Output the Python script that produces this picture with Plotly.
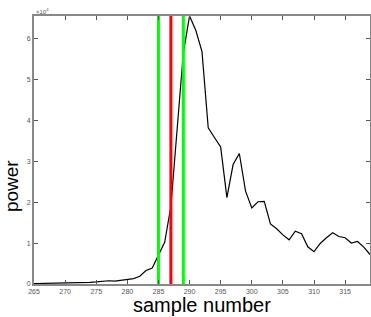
import plotly.graph_objects as go

samples = list(range(265, 320))
power = [100, 120, 150, 180, 200, 220, 250, 300, 350, 400, 500, 600, 800, 700, 900, 1000,
         1300, 1900, 3300, 3900, 7200, 10200, 19000, 38000, 56500, 65500, 62000, 56800,
         38200, 35800, 33500, 21100, 29200, 31900, 22700, 18600, 20100, 20200, 14700,
         13500, 12000, 10800, 12900, 12300, 9100, 7900, 9900, 11300, 12500, 11600, 11300,
         10000, 10400, 9000, 7200]

green_lines = [285, 289]
red_lines = [287]

x_ticks = [265, 270, 275, 280, 285, 290, 295, 300, 305, 310, 315]
y_tick_vals = [0, 10000, 20000, 30000, 40000, 50000, 60000]
y_tick_text = ["0", "1", "2", "3", "4", "5", "6"]

x_range = [265, 319]
y_range = [0, 65500]

fig = go.Figure()
fig.add_trace(go.Scatter(x=samples, y=power, mode="lines",
                         line=dict(color="black", width=1.2), showlegend=False))
for xv in green_lines:
    fig.add_trace(go.Scatter(x=[xv, xv], y=y_range, mode="lines",
                             line=dict(color="#00ff00", width=3), showlegend=False))
for xv in red_lines:
    fig.add_trace(go.Scatter(x=[xv, xv], y=y_range, mode="lines",
                             line=dict(color="#ff0000", width=3), showlegend=False))

fig.update_layout(
    width=371, height=317,
    margin=dict(l=34, r=1, t=16, b=33),
    paper_bgcolor="white", plot_bgcolor="white",
    font=dict(family="Liberation Sans, Arial, sans-serif", color="#444"),
    xaxis=dict(range=x_range, tickvals=x_ticks, ticks="inside", ticklen=4,
               tickcolor="#555", showline=True, linecolor="#888", linewidth=2,
               mirror="ticks", showgrid=False, zeroline=False, automargin=False,
               tickfont=dict(size=7, color="#555")),
    yaxis=dict(range=y_range, tickvals=y_tick_vals, ticktext=y_tick_text, ticks="inside",
               ticklen=4, tickcolor="#555", showline=True, linecolor="#888", linewidth=2,
               mirror="ticks", showgrid=False, zeroline=False, automargin=False,
               tickfont=dict(size=7, color="#555")),
    annotations=[
        dict(text="\u00d710<sup>4</sup>", x=0, y=1, xref="paper", yref="paper",
             xanchor="left", yanchor="bottom", showarrow=False,
             font=dict(size=6, color="#555"), yshift=-1),
        dict(text="sample number", x=0.5, y=-0.078, xref="paper", yref="paper",
             xanchor="center", yanchor="middle", showarrow=False,
             font=dict(size=20, color="black")),
        dict(text="power", x=-0.065, y=0.366, xref="paper", yref="paper",
             xanchor="center", yanchor="middle", showarrow=False, textangle=-90,
             font=dict(size=19, color="black")),
    ],
)

fig.write_html("out.html", config={"displayModeBar": False},
               post_script="document.body.style.margin='0';document.body.style.overflow='hidden';")
